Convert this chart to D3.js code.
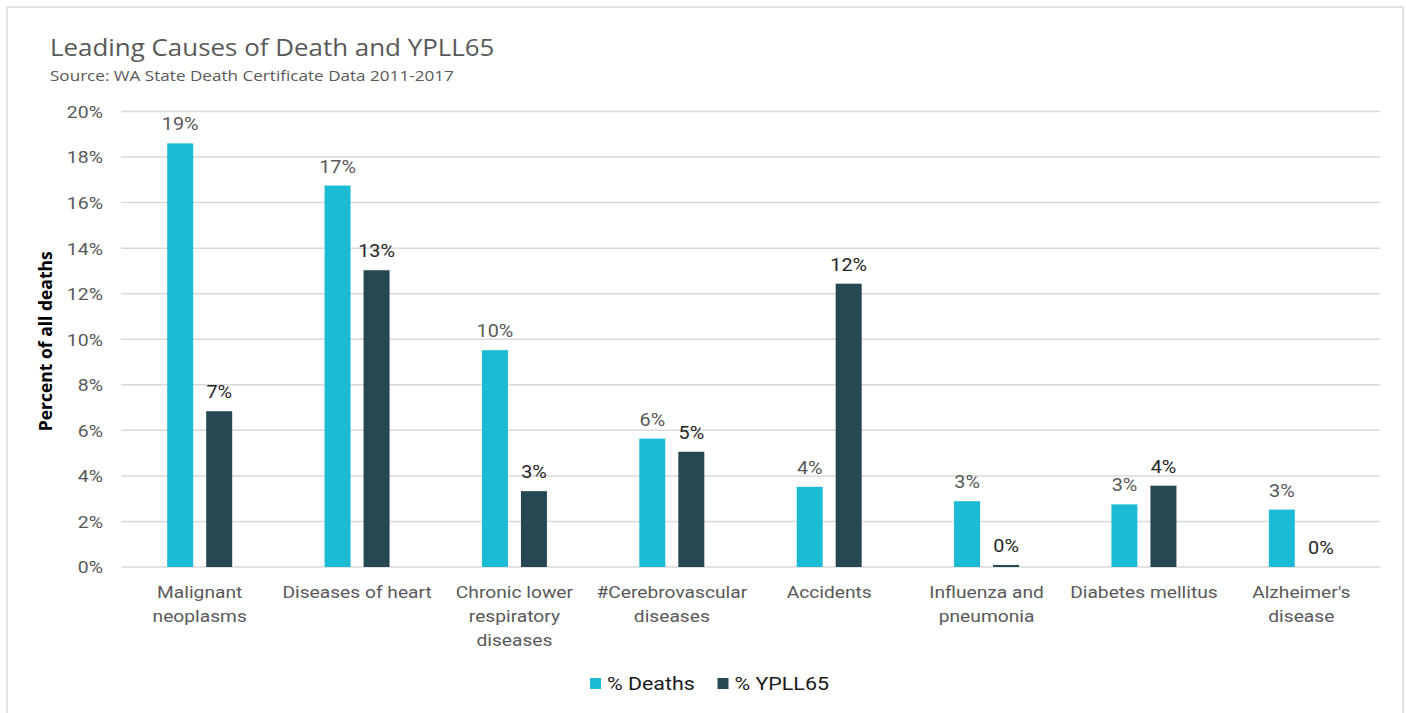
<!DOCTYPE html>
<html>
<head>
<meta charset="utf-8">
<script src="https://cdn.jsdelivr.net/npm/d3@7"></script>
<style>
  html, body { margin: 0; padding: 0; background: #fff; }
  svg { display: block; }
</style>
</head>
<body>
<svg id="chart" width="1406" height="713"></svg>
<script>
// ---- Data ----
const categories = [
  "Malignant neoplasms",
  "Diseases of heart",
  "Chronic lower respiratory diseases",
  "#Cerebrovascular diseases",
  "Accidents",
  "Influenza and pneumonia",
  "Diabetes mellitus",
  "Alzheimer's disease"
];
const categoryLines = [
  ["Malignant", "neoplasms"],
  ["Diseases of heart"],
  ["Chronic lower", "respiratory", "diseases"],
  ["#Cerebrovascular", "diseases"],
  ["Accidents"],
  ["Influenza and", "pneumonia"],
  ["Diabetes mellitus"],
  ["Alzheimer's", "disease"]
];
const seriesNames = ["% Deaths", "% YPLL65"];
const deaths = [18.6, 16.75, 9.52, 5.64, 3.52, 2.89, 2.75, 2.52];
const ypll65 = [6.84, 13.03, 3.33, 5.06, 12.44, 0.09, 3.57, 0.0];
const yTicks = [0, 2, 4, 6, 8, 10, 12, 14, 16, 18, 20];
const titleText = "Leading Causes of Death and YPLL65";
const subtitleText = "Source: WA State Death Certificate Data 2011-2017";
const yAxisTitle = "Percent of all deaths";

// ---- Layout ----
const svg = d3.select("#chart");
const colors = { "% Deaths": "#1bbcd3", "% YPLL65": "#264853" };
const labelColors = { "% Deaths": "#595959", "% YPLL65": "#262626" };
const plot = { left: 121, right: 1380, top: 111.5, bottom: 567 };

// outer border
svg.append("rect")
  .attr("x", 7).attr("y", 7).attr("width", 1396).attr("height", 720)
  .attr("fill", "none").attr("stroke", "#d9d9d9").attr("stroke-width", 1.5);

// title
svg.append("text").attr("transform", "translate(50,56) scale(1.08,1)")
  .attr("font-family", "'Open Sans', sans-serif").attr("font-size", 24)
  .attr("fill", "#595959").text(titleText);
svg.append("text").attr("transform", "translate(50,80.5) scale(1.14,1)")
  .attr("font-family", "'Open Sans', sans-serif").attr("font-size", 15)
  .attr("fill", "#595959").text(subtitleText);

// scales
const y = d3.scaleLinear().domain([0, 20]).range([plot.bottom, plot.top]);
const x0 = d3.scaleBand().domain(categories).range([plot.left, plot.right]).padding(0);
const bw = x0.bandwidth();
const x1 = d3.scaleBand().domain(seriesNames)
  .range([bw / 2 - 39, bw / 2 + 39]).paddingInner(1 / 3).paddingOuter(1 / 6);

// gridlines
svg.append("g").selectAll("line").data(yTicks).join("line")
  .attr("x1", plot.left).attr("x2", plot.right)
  .attr("y1", d => y(d)).attr("y2", d => y(d))
  .attr("stroke", "#d9d9d9").attr("stroke-width", 1.5);

// y axis labels
const yAxis = d3.axisLeft(y).tickValues(yTicks).tickSize(0).tickPadding(0)
  .tickFormat(d => d + "%");
const gy = svg.append("g").attr("transform", `translate(103,0)`).call(yAxis);
gy.select(".domain").remove();
gy.selectAll(".tick text")
  .attr("x", null)
  .attr("transform", "scale(1.18,1)")
  .attr("font-family", "Roboto, sans-serif").attr("font-size", 16.5)
  .attr("fill", "#595959").attr("dy", "0.36em");

// y axis title
svg.append("text")
  .attr("transform", `translate(52,${(plot.top + plot.bottom) / 2 + 2}) rotate(-90)`)
  .attr("text-anchor", "middle")
  .attr("font-family", "'Open Sans', sans-serif").attr("font-size", 17.5)
  .attr("font-weight", "bold").attr("fill", "#000").text(yAxisTitle);

// bars
const rows = categories.map((c, i) => ({ cat: c, vals: [
  { s: seriesNames[0], v: deaths[i] },
  { s: seriesNames[1], v: ypll65[i] }
]}));
const groups = svg.append("g").selectAll("g").data(rows).join("g")
  .attr("transform", d => `translate(${x0(d.cat)},0)`);
groups.selectAll("rect").data(d => d.vals).join("rect")
  .attr("x", d => x1(d.s)).attr("width", x1.bandwidth())
  .attr("y", d => y(d.v)).attr("height", d => y(0) - y(d.v))
  .attr("fill", d => colors[d.s]);
groups.selectAll("text").data(d => d.vals).join("text")
  .attr("transform", d => `translate(${x1(d.s) + x1.bandwidth() / 2},${y(d.v) - 13}) scale(1.1,1)`)
  .attr("text-anchor", "middle")
  .attr("font-family", "Roboto, sans-serif").attr("font-size", 18)
  .attr("fill", d => labelColors[d.s])
  .text(d => d3.format(".0f")(d.v) + "%");

// category labels
const catG = svg.append("g").selectAll("text").data(categories).join("text")
  .attr("transform", d => `translate(${x0(d) + bw / 2},598) scale(1.13,1)`)
  .attr("text-anchor", "middle")
  .attr("font-family", "Roboto, sans-serif").attr("font-size", 17)
  .attr("fill", "#595959");
catG.each(function(d, i) {
  d3.select(this).selectAll("tspan").data(categoryLines[i]).join("tspan")
    .attr("x", 0)
    .attr("dy", (l, j) => j === 0 ? 0 : 24)
    .text(l => l);
});

// legend
const legendItems = [
  { s: seriesNames[0], x: 590 },
  { s: seriesNames[1], x: 717.5 }
];
const lg = svg.append("g").selectAll("g").data(legendItems).join("g")
  .attr("transform", d => `translate(${d.x},678)`);
lg.append("rect").attr("width", 11).attr("height", 11).attr("fill", d => colors[d.s]);
lg.append("text").attr("transform", "translate(17,11.5) scale(1.19,1)")
  .attr("font-family", "Roboto, sans-serif").attr("font-size", 18)
  .attr("fill", "#1a1a1a").text(d => d.s);
</script>
</body>
</html>
